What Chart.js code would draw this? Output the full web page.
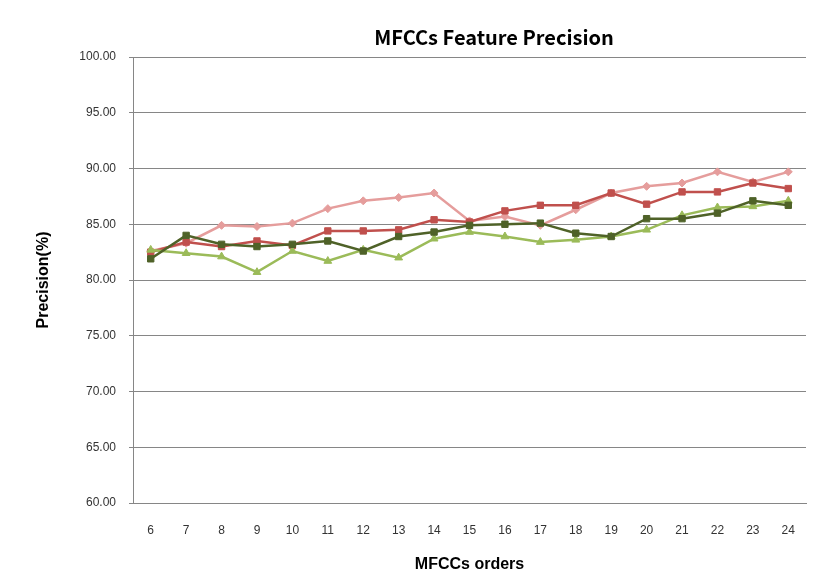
<!DOCTYPE html>
<html lang="en">
<head>
    <meta charset="UTF-8">
    <title>MFCCs Feature Precision</title>
    <script src="https://cdn.jsdelivr.net/npm/chart.js"></script>
    <style>
        body { margin: 0; background: #fff; }
        #wrap { position: relative; width: 822px; height: 587px; }
        #title {
            position: absolute; left: 0; width: 988px; top: 22px;
            text-align: center; font: bold 20px "Noto Sans CJK KR", "Noto Sans", sans-serif;
            color: #000; pointer-events: none;
        }
    </style>
</head>
<body>
    <div id="wrap">
        <canvas id="chart" width="822" height="587"></canvas>
        <div id="title">MFCCs Feature Precision</div>
    </div>

    <script>
        // x categories (MFCC orders) and precision values
        const orders = ['6', '7', '8', '9', '10', '11', '12', '13', '14', '15', '16', '17', '18', '19', '20', '21', '22', '23', '24'];
        const pinkSeries  = [82.6, 83.3, 84.9, 84.8, 85.1, 86.4, 87.1, 87.4, 87.8, 85.3, 85.7, 84.9, 86.3, 87.8, 88.4, 88.7, 89.7, 88.8, 89.7];
        const redSeries   = [82.5, 83.4, 83.0, 83.5, 83.1, 84.4, 84.4, 84.5, 85.4, 85.2, 86.2, 86.7, 86.7, 87.8, 86.8, 87.9, 87.9, 88.7, 88.2];
        const darkSeries  = [81.9, 84.0, 83.2, 83.0, 83.2, 83.5, 82.6, 83.9, 84.3, 84.9, 85.0, 85.1, 84.2, 83.9, 85.5, 85.5, 86.0, 87.1, 86.7];
        const lightSeries = [82.7, 82.4, 82.1, 80.7, 82.6, 81.7, 82.7, 82.0, 83.7, 84.3, 83.9, 83.4, 83.6, 83.9, 84.5, 85.8, 86.5, 86.6, 87.1];
        const yTicksMin = 60, yTicksMax = 100, yStep = 5;

        const tickFont = { family: 'Liberation Sans', size: 12 };
        const axisTitleFont = { family: 'Liberation Sans', size: 16, weight: 'bold' };

        function line(data, color, style, radius, order) {
            return {
                data: data,
                borderColor: color,
                backgroundColor: color,
                borderWidth: 2.5,
                pointStyle: style,
                pointRadius: radius,
                pointBorderWidth: 1,
                tension: 0,
                order: order
            };
        }

        new Chart(document.getElementById('chart'), {
            type: 'line',
            data: {
                labels: orders,
                datasets: [
                    line(pinkSeries, '#E59D9C', 'rectRot', 4, 4),
                    line(redSeries, '#C0504D', 'rect', 4.5, 3),
                    line(lightSeries, '#9BBB59', 'triangle', 4.5, 2),
                    line(darkSeries, '#4F6228', 'rect', 4.5, 1)
                ]
            },
            options: {
                responsive: false,
                animation: false,
                layout: { padding: { top: 57, right: 16, left: 0, bottom: 0 } },
                plugins: {
                    legend: { display: false },
                    tooltip: { enabled: false }
                },
                scales: {
                    x: {
                        offset: true,
                        grid: { display: false, drawTicks: false },
                        border: { display: true, color: '#868686', width: 1 },
                        ticks: { font: tickFont, color: '#333', padding: 20, maxRotation: 0 },
                        title: { display: true, text: 'MFCCs orders', font: axisTitleFont, color: '#000', padding: { top: 0, bottom: 13 } },
                        afterFit: (s) => { s.height = 84; }
                    },
                    y: {
                        min: yTicksMin,
                        max: yTicksMax,
                        grid: { color: '#868686', lineWidth: 1, tickLength: 4 },
                        border: { display: true, color: '#868686', width: 1 },
                        ticks: {
                            stepSize: yStep,
                            font: tickFont,
                            color: '#333',
                            padding: 13,
                            callback: (v) => v.toFixed(2)
                        },
                        title: { display: true, text: 'Precision(%)', font: axisTitleFont, color: '#000', padding: { top: 34, bottom: 0 } },
                        afterFit: (s) => { s.width = 133; }
                    }
                }
            }
        });
    </script>
</body>
</html>
